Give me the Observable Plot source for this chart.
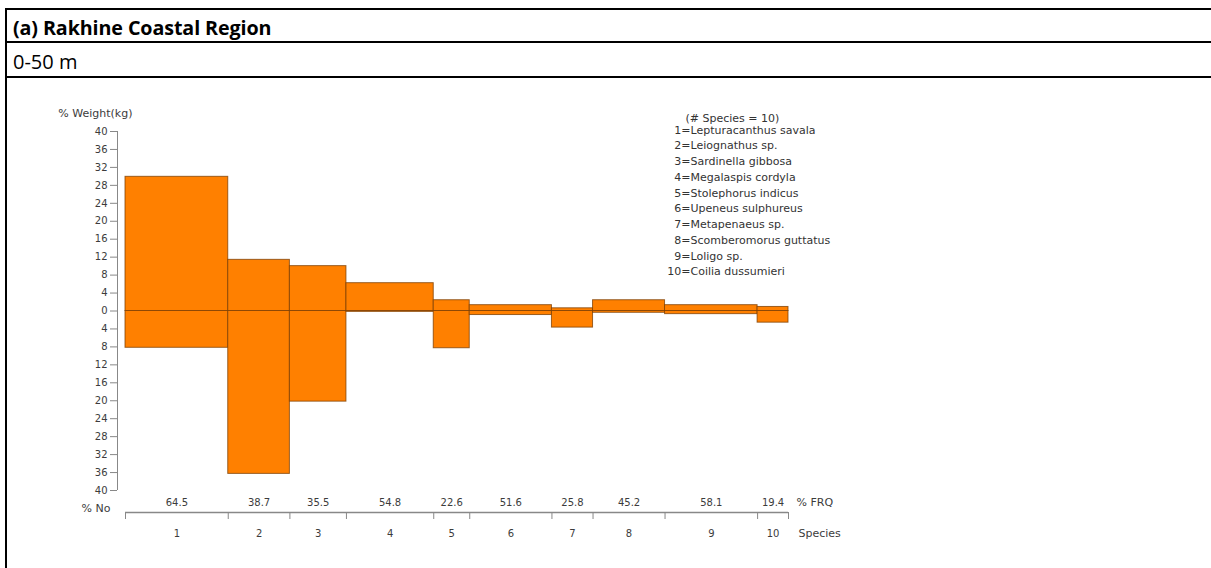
<!DOCTYPE html>
<html>
<head>
<meta charset="utf-8">
<script src="https://cdn.jsdelivr.net/npm/d3@7"></script>
<script src="https://cdn.jsdelivr.net/npm/@observablehq/plot@0.6"></script>
<style>
  html, body { margin: 0; padding: 0; background: #fff; width: 1211px; height: 568px; overflow: hidden; }
  .hline { position: absolute; background: #000; height: 2px; }
  .vline { position: absolute; background: #000; width: 2px; }
  .title { position: absolute; left: 13px; font-family: "Open Sans", sans-serif; color: #000; white-space: nowrap; line-height: 20px; }
  #chart { position: absolute; left: 0; top: 78px; }
</style>
</head>
<body>
<div class="hline" style="left:5px; top:8px; width:1206px;"></div>
<div class="hline" style="left:5px; top:41px; width:1206px;"></div>
<div class="hline" style="left:5px; top:76px; width:1206px;"></div>
<div class="vline" style="left:5px; top:8px; height:560px;"></div>
<div class="title" style="top:18px; font-size:19.7px; font-weight:700; letter-spacing:-0.1px;">(a) Rakhine Coastal Region</div>
<div class="title" style="top:52px; font-size:20px;">0-50 m</div>
<div id="chart"></div>
<script>
// ---- data ----
const species = [1, 2, 3, 4, 5, 6, 7, 8, 9, 10];
const frqPct = [64.5, 38.7, 35.5, 54.8, 22.6, 51.6, 25.8, 45.2, 58.1, 19.4];
const weightPct = [29.9, 11.4, 10.0, 6.2, 2.4, 1.3, 0.6, 2.4, 1.3, 0.9];
const numberPct = [8.2, 36.3, 20.2, 0.2, 8.3, 0.9, 3.7, 0.4, 0.7, 2.6];
const speciesNames = [
  "Lepturacanthus savala", "Leiognathus sp.", "Sardinella gibbosa", "Megalaspis cordyla",
  "Stolephorus indicus", "Upeneus sulphureus", "Metapenaeus sp.", "Scomberomorus guttatus",
  "Loligo sp.", "Coilia dussumieri"
];
const yTicks = d3.range(-40, 41, 4);

// ---- build rows: bar widths proportional to % FRQ ----
let acc = 0;
const rows = species.map((s, i) => {
  const x1 = acc; acc += frqPct[i];
  return { species: s, frq: frqPct[i], x1, x2: acc, mid: (x1 + acc) / 2, w: weightPct[i], n: -numberPct[i] };
});
const total = acc;
const bounds = [0, ...rows.map(r => r.x2)];

const font = "DejaVu Sans, sans-serif";
const grey = "#3c3c3c";
const fill = "#ff8000";
const edge = "#7a3c00";

const legendNums = species.map(s => s + "=").join("\n");
const legendNames = speciesNames.join("\n");

const plot = Plot.plot({
  width: 1211,
  height: 490,
  marginLeft: 117,
  marginRight: 423,
  marginTop: 53,
  marginBottom: 56,
  style: { fontFamily: font, fontSize: "10px", color: grey, background: "transparent" },
  x: { domain: [0, total], range: [125, 788] },
  y: { domain: [-40, 40], range: [412, 53] },
  marks: [
    // y axis
    Plot.ruleX([0], { y1: -40, y2: 40, dx: -8, stroke: "#888" }),
    Plot.axisY({ ticks: yTicks, tickFormat: d => Math.abs(d), tickSize: 7, tickPadding: 3, stroke: "#888", fill: grey, fontSize: 10, label: null }),
    // bars
    Plot.rectY(rows, { x1: "x1", x2: "x2", y1: 0, y2: "w", fill, stroke: edge, strokeOpacity: 0.75, strokeWidth: 1 }),
    Plot.rectY(rows, { x1: "x1", x2: "x2", y1: 0, y2: "n", fill, stroke: edge, strokeOpacity: 0.75, strokeWidth: 1 }),
    // bottom species axis
    Plot.ruleY([-40], { x1: 0, x2: total, dy: 22, stroke: "#888", strokeWidth: 1.5 }),
    Plot.axisX(bounds, { anchor: "bottom", tickSize: 7, tickFormat: () => "", stroke: "#888", label: null }),
    Plot.text(rows, { x: "mid", y: -40, dy: 12, text: d => d.frq.toFixed(1), fill: grey, fontSize: 10 }),
    Plot.text(rows, { x: "mid", y: -40, dy: 43, text: d => String(d.species), fill: grey, fontSize: 10 }),
    Plot.text(["% FRQ"], { x: total, y: -40, dx: 8, dy: 12, text: d => d, textAnchor: "start", fill: grey, fontSize: 11 }),
    Plot.text(["Species"], { x: total, y: -40, dx: 10, dy: 43, text: d => d, textAnchor: "start", fill: grey, fontSize: 11 }),
    Plot.text(["% No"], { x: 0, y: -40, dx: -15, dy: 18, text: d => d, textAnchor: "end", fill: grey, fontSize: 11 }),
    Plot.text(["% Weight(kg)"], { x: 0, y: 40, dx: 7, dy: -18, text: d => d, textAnchor: "end", fill: grey, fontSize: 11 }),
    // legend
    Plot.text([`(# Species = ${species.length})`], { frameAnchor: "top-left", dx: 568, dy: -17, text: d => d, textAnchor: "start", fill: "#333", fontSize: 11 }),
    Plot.text([legendNums], { frameAnchor: "top-left", dx: 573, dy: -9, text: d => d, textAnchor: "end", lineAnchor: "top", lineHeight: 1.43, fill: "#333", fontSize: 11 }),
    Plot.text([legendNames], { frameAnchor: "top-left", dx: 573, dy: -9, text: d => d, textAnchor: "start", lineAnchor: "top", lineHeight: 1.43, fill: "#333", fontSize: 11 })
  ]
});
document.getElementById("chart").appendChild(plot);
</script>
</body>
</html>
